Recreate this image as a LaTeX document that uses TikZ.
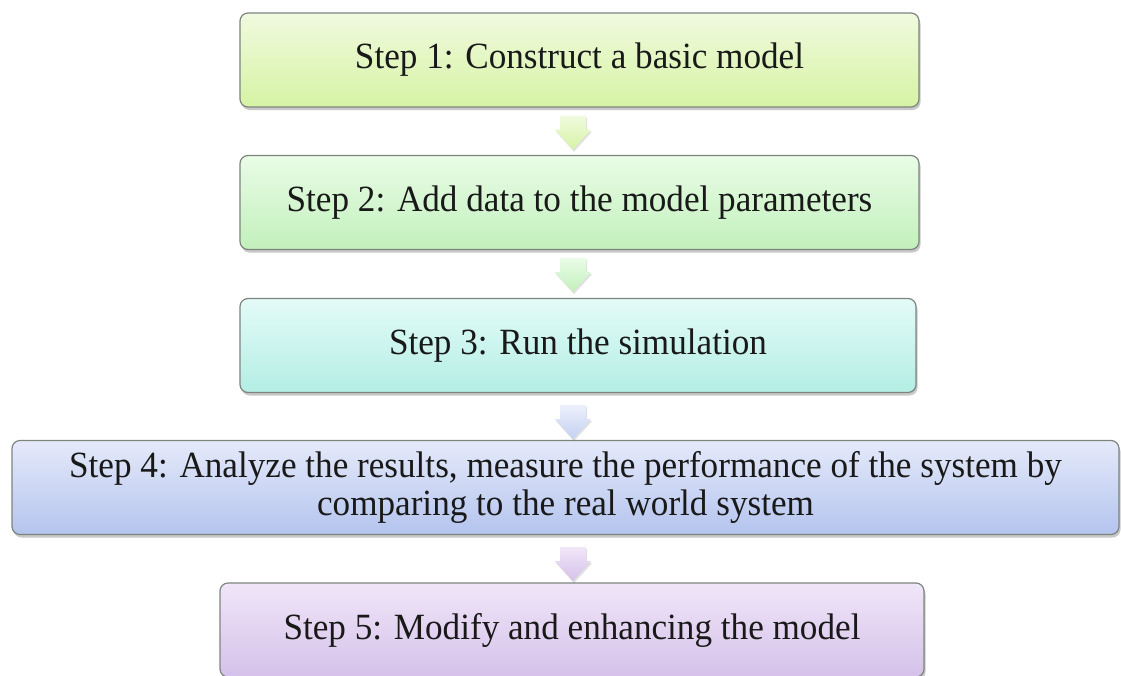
\documentclass[tikz,border=0pt]{standalone}
\usepackage{fontspec}
\setmainfont{Liberation Serif}[FakeStretch=0.95]
\usetikzlibrary{shadows,calc}

\definecolor{frame}{HTML}{7E857E}
\definecolor{oneT}{HTML}{F0FADF}\definecolor{oneB}{HTML}{D6F3A4}
\definecolor{twoT}{HTML}{E9FCE7}\definecolor{twoB}{HTML}{C2F0BB}
\definecolor{thrT}{HTML}{E4FBF8}\definecolor{thrB}{HTML}{B3EEE4}
\definecolor{fouT}{HTML}{E5EAFA}\definecolor{fouB}{HTML}{B4C4EE}
\definecolor{fivT}{HTML}{F0E6F8}\definecolor{fivB}{HTML}{D5C1EA}

\tikzset{
  stepbox/.style={draw=frame, line width=1.2pt, rounded corners=8pt,
    minimum height=94pt, align=center, text=black!90,
    font=\fontsize{37}{38}\selectfont,
    drop shadow={shadow xshift=1.5pt, shadow yshift=-3pt, opacity=0.3, fill=black!70}},
  flowarrow/.style={draw=none,
    drop shadow={shadow xshift=1pt, shadow yshift=-2pt, opacity=0.2, fill=black!60}}
}

% block arrow pointing down from a named top coordinate
\newcommand\flowdown[3]{%
  \path[flowarrow, top color=#2, bottom color=#3]
    ($(#1)+(-13,0)$) -- ++(26,0) -- ++(0,14) -- ++(5,0) -- ++(-18,20)
    -- ++(-18,-20) -- ++(5,0) -- cycle;}

\begin{document}
\begin{tikzpicture}[x=1pt,y=-1pt]
\clip (0,0) rectangle (1121,675);
\fill[white] (0,0) rectangle (1121,675);

\node[stepbox, top color=oneT, bottom color=oneB, minimum width=679pt]
  (s1) at (579.5,60) {Step 1: Construct a basic model};
\node[stepbox, top color=twoT, bottom color=twoB, minimum width=679pt]
  (s2) at (579.5,202.5) {Step 2: Add data to the model parameters};
\node[stepbox, top color=thrT, bottom color=thrB, minimum width=676pt]
  (s3) at (578,345.5) {Step 3: Run the simulation};
\node[stepbox, top color=fouT, bottom color=fouB, minimum width=1107pt]
  (s4) at (565.5,487.5) {Step 4: Analyze the results, measure the performance of the system by\\comparing to the real world system};
\node[stepbox, top color=fivT, bottom color=fivB, minimum width=704pt]
  (s5) at (572,630) {Step 5: Modify and enhancing the model};

\coordinate (a1) at ($(s1.south)+(-6.5,8)$);
\coordinate (a2) at ($(s2.south)+(-6.5,8)$);
\coordinate (a3) at ($(s3.south)+(-5,12)$);
\coordinate (a4) at ($(s4.south)+(7.5,12)$);

\flowdown{a1}{oneT}{oneB}
\flowdown{a2}{twoT}{twoB}
\flowdown{a3}{fouT!70!white}{fouB!80!white}
\flowdown{a4}{fivT}{fivB}
\end{tikzpicture}
\end{document}
